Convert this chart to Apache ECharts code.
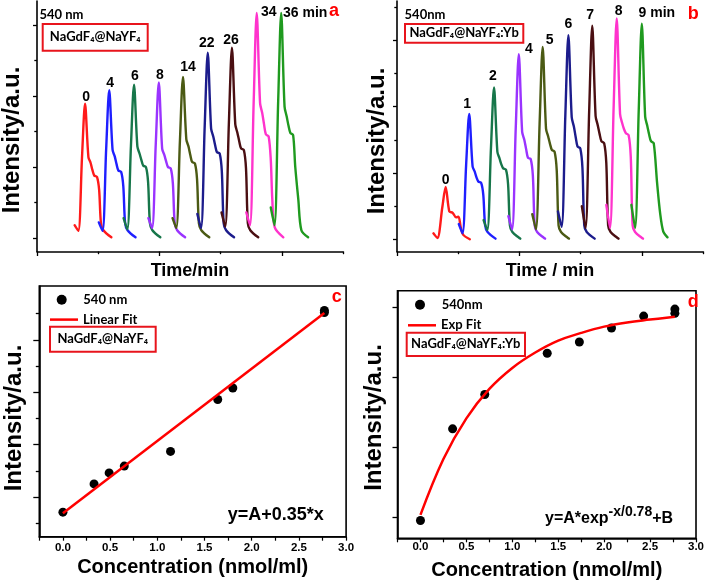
<!DOCTYPE html>
<html><head><meta charset="utf-8">
<script src="https://cdn.jsdelivr.net/npm/echarts@6/dist/echarts.min.js"></script>
<style>html,body{margin:0;padding:0;background:#fff}#c{width:707px;height:585px}</style>
</head><body><div id="c"></div>
<script>
// ---------- Panel a: NaGdF4@NaYF4, 540 nm intensity vs time ----------
const labelsA = ['0','4','6','8','14','22','26','34','36 min'];
const a0  = [[1.23,0.18],[1.35,0.10],[1.47,1.13],[1.57,1.89],[1.68,1.14],[1.75,1.06],[1.81,0.96],[1.87,0.88],[1.96,0.86],[2.03,0.68],[2.09,0.21],[2.17,0.11],[2.43,0.01]];
const a4  = [[2.02,0.22],[2.14,0.10],[2.26,1.25],[2.36,2.08],[2.47,1.24],[2.54,1.15],[2.60,1.04],[2.66,0.95],[2.75,0.93],[2.82,0.73],[2.88,0.21],[2.96,0.11],[3.22,0.01]];
const a6  = [[2.83,0.28],[2.95,0.12],[3.07,1.30],[3.17,2.16],[3.28,1.29],[3.35,1.19],[3.41,1.10],[3.47,1.02],[3.56,1.00],[3.63,0.79],[3.69,0.21],[3.77,0.11],[4.03,0.01]];
const a8  = [[3.64,0.28],[3.76,0.14],[3.88,1.31],[3.98,2.19],[4.09,1.26],[4.16,1.17],[4.22,1.08],[4.28,1.00],[4.37,0.98],[4.44,0.77],[4.50,0.21],[4.58,0.11],[4.84,0.01]];
const a14 = [[4.43,0.28],[4.55,0.14],[4.67,1.36],[4.77,2.27],[4.88,1.39],[4.95,1.29],[5.01,1.17],[5.07,1.07],[5.16,1.05],[5.23,0.83],[5.29,0.21],[5.37,0.11],[5.63,0.01]];
const a22 = [[5.24,0.34],[5.36,0.14],[5.48,1.57],[5.58,2.61],[5.69,1.54],[5.76,1.43],[5.82,1.31],[5.88,1.21],[5.97,1.19],[6.04,0.94],[6.10,0.21],[6.18,0.11],[6.44,0.01]];
const a26 = [[6.03,0.36],[6.15,0.16],[6.27,1.61],[6.37,2.68],[6.48,1.60],[6.55,1.48],[6.61,1.36],[6.67,1.26],[6.76,1.24],[6.83,0.98],[6.89,0.21],[6.97,0.11],[7.23,0.01]];
const a34 = [[6.84,0.36],[6.96,0.18],[7.08,1.90],[7.18,3.17],[7.29,1.90],[7.36,1.76],[7.42,1.60],[7.48,1.46],[7.57,1.43],[7.64,1.10],[7.69,0.54],[7.77,0.15],[8.05,0.01]];
const a36 = [[7.64,0.43],[7.76,0.18],[7.88,1.90],[7.98,3.17],[8.09,1.85],[8.16,1.71],[8.22,1.58],[8.28,1.48],[8.37,1.45],[8.44,1.00],[8.54,0.54],[8.64,0.11],[8.86,0.01]];

// ---------- Panel b: NaGdF4@NaYF4:Yb ----------
const labelsB = ['0','1','2','4','5','6','7','8','9 min'];
const b0 = [[1.19,0.09],[1.32,0.02],[1.48,0.48],[1.59,0.79],[1.71,0.42],[1.82,0.40],[1.93,0.33],[2.01,0.34],[2.08,0.19],[2.16,0.07],[2.38,0.00]];
const b1 = [[2.02,0.23],[2.14,0.09],[2.26,1.13],[2.36,1.89],[2.47,1.10],[2.54,1.02],[2.60,0.93],[2.66,0.87],[2.75,0.85],[2.82,0.67],[2.88,0.21],[2.96,0.11],[3.22,0.01]];
const b2 = [[2.83,0.29],[2.95,0.14],[3.07,1.37],[3.17,2.29],[3.28,1.32],[3.35,1.22],[3.41,1.13],[3.47,1.07],[3.56,1.05],[3.63,0.83],[3.69,0.21],[3.77,0.11],[4.03,0.01]];
const b4 = [[3.64,0.35],[3.76,0.15],[3.88,1.67],[3.98,2.79],[4.09,1.62],[4.16,1.50],[4.22,1.36],[4.28,1.23],[4.37,1.21],[4.44,0.96],[4.50,0.21],[4.58,0.11],[4.84,0.01]];
const b5 = [[4.42,0.38],[4.54,0.15],[4.66,1.74],[4.76,2.90],[4.87,1.67],[4.94,1.55],[5.00,1.44],[5.06,1.35],[5.15,1.32],[5.22,1.04],[5.28,0.21],[5.36,0.11],[5.62,0.01]];
const b6 = [[5.26,0.42],[5.38,0.19],[5.50,1.85],[5.60,3.08],[5.71,1.84],[5.78,1.70],[5.84,1.54],[5.90,1.40],[5.99,1.37],[6.06,1.08],[6.12,0.21],[6.20,0.11],[6.46,0.01]];
const b7 = [[6.04,0.50],[6.16,0.17],[6.28,1.93],[6.38,3.22],[6.49,1.86],[6.56,1.72],[6.62,1.59],[6.68,1.48],[6.77,1.45],[6.84,1.15],[6.90,0.21],[6.98,0.11],[7.24,0.01]];
const b8 = [[6.84,0.52],[6.96,0.17],[7.08,2.00],[7.18,3.33],[7.29,1.89],[7.36,1.75],[7.42,1.66],[7.48,1.60],[7.57,1.57],[7.64,1.24],[7.70,0.21],[7.78,0.11],[8.04,0.01]];
const b9 = [[7.66,0.52],[7.78,0.17],[7.90,1.95],[8.00,3.25],[8.11,1.85],[8.18,1.71],[8.24,1.58],[8.30,1.48],[8.39,1.45],[8.50,0.85],[8.60,0.39],[8.70,0.12],[8.84,0.03]];

// ---------- Panel c: linear ----------
const concC = [0, 0.33, 0.49, 0.65, 1.14, 1.64, 1.80, 2.77, 2.77];
const intC  = [0.71, 1.25, 1.46, 1.59, 1.87, 2.86, 3.08, 4.56, 4.52];
const fitCx = [0, 2.77];
const fitCy = [0.69, 4.51];

// ---------- Panel d: exponential ----------
const concD = [0, 0.35, 0.70, 1.38, 1.73, 2.08, 2.43, 2.77, 2.77];
const intD  = [-0.05, 1.26, 1.75, 2.34, 2.50, 2.70, 2.87, 2.97, 2.91];
const fitDx = [0, 0.25, 0.5, 0.75, 1.0, 1.25, 1.5, 1.75, 2.0, 2.25, 2.5, 2.77];
const fitDy = [0.03, 0.83, 1.41, 1.83, 2.13, 2.35, 2.52, 2.63, 2.72, 2.78, 2.82, 2.86];

// ---------- tick values ----------
const ticksTimeMajor = [0, 4, 8];
const ticksTimeMinor = [2, 6, 10];
const ticksIntA = [0, 1, 2, 3], ticksIntAMinor = [0.5, 1.5, 2.5];
const ticksIntB = [0, 1, 2, 3], ticksIntBMinor = [0.5, 1.5, 2.5, 3.5];
const ticksIntC = [1, 2, 3, 4], ticksIntCMinor = [0.5, 1.5, 2.5, 3.5, 4.5];
const ticksIntD = [0, 1, 2, 3];

// ---------- styles ----------
const colors = ['#ff1a1a','#1f1fff','#17764a','#9a33ff','#4b5a14','#1c1c8c','#4a0f12','#ff33cc','#1f9a1f'];
const offsA = [[1,-7],[1,-7],[1,-9],[1,-7],[5,-10],[-1,-10],[-1,-8],[12,-1],[24,0]];
const offsB = [[0,-7],[-2,-10],[-1,-11],[10,-5],[7,-7],[0,-11],[-2,-11],[2,-7],[15,-11]];
const FONT = "'Liberation Sans', Arial, sans-serif";
const CAL = "'Liberation Sans Narrow', Lato, sans-serif";
const RED = '#e8141c';

function tStyle(size){ return {fontFamily:FONT, fontWeight:'bold', fontSize:size, color:'#000'}; }
function ax(o){
  return Object.assign({
    type:'value', splitLine:{show:false},
    axisLine:{show:true, onZero:false, lineStyle:{color:'#000', width:1.6}},
    axisLabel:{show:false}
  }, o);
}
function tick(vals, len){ return {show:true, customValues:vals, length:len, lineStyle:{color:'#000', width:1.3}}; }
const noLine = {show:false, onZero:false};
const concLabel = v => Math.abs(v*2 - Math.round(v*2)) < 1e-6 && v >= 0 ? v.toFixed(1) : '';

const xAxis = [
  ax({gridIndex:0, position:'bottom', min:0, max:10, axisTick:tick(ticksTimeMajor,4.5),
      name:'Time/min', nameLocation:'middle', nameGap:11, nameTextStyle:tStyle(18)}),
  ax({gridIndex:0, position:'bottom', min:0, max:10, axisLine:noLine, axisTick:tick(ticksTimeMinor,2.7)}),
  ax({gridIndex:1, position:'bottom', min:0, max:10, axisTick:tick(ticksTimeMajor,4.5),
      name:'Time / min', nameLocation:'middle', nameGap:11, nameTextStyle:tStyle(18)}),
  ax({gridIndex:1, position:'bottom', min:0, max:10, axisLine:noLine, axisTick:tick(ticksTimeMinor,2.7)}),
  ax({gridIndex:2, position:'bottom', min:-0.25, max:3, interval:0.25,
      axisTick:{show:true, length:4, lineStyle:{color:'#000', width:1.2}},
      axisLabel:{show:true, margin:5, fontFamily:FONT, fontWeight:'bold', fontSize:11.5, color:'#000', formatter:concLabel},
      name:'Concentration (nmol/ml)', nameLocation:'middle', nameGap:21, nameTextStyle:tStyle(20)}),
  ax({gridIndex:3, position:'bottom', min:-0.25, max:3, interval:0.25,
      axisTick:{show:true, length:4, lineStyle:{color:'#000', width:1.2}},
      axisLabel:{show:true, margin:3, fontFamily:FONT, fontWeight:'bold', fontSize:11.5, color:'#000', formatter:concLabel},
      name:'Concentration (nmol/ml)', nameLocation:'middle', nameGap:22, nameTextStyle:tStyle(20)})
];
const yAxis = [
  ax({gridIndex:0, position:'left', min:-0.19, max:3.338, axisTick:tick(ticksIntA,4)}),
  ax({gridIndex:0, position:'left', min:-0.19, max:3.338, axisLine:noLine, axisTick:tick(ticksIntAMinor,2.7)}),
  ax({gridIndex:1, position:'left', min:-0.184, max:3.594, axisTick:tick(ticksIntB,4)}),
  ax({gridIndex:1, position:'left', min:-0.184, max:3.594, axisLine:noLine, axisTick:tick(ticksIntBMinor,2.7)}),
  ax({gridIndex:2, position:'left', min:0.242, max:5.027, axisTick:tick(ticksIntC,6)}),
  ax({gridIndex:2, position:'left', min:0.242, max:5.027, axisLine:noLine, axisTick:tick(ticksIntCMinor,3.5)}),
  ax({gridIndex:3, position:'left', min:-0.304, max:3.233, axisTick:tick(ticksIntD,5)})
];

const curvesA = [a0,a4,a6,a8,a14,a22,a26,a34,a36];
const curvesB = [b0,b1,b2,b4,b5,b6,b7,b8,b9];
const series = [];
function addPanel(curves, labels, offs, xi, yi){
  curves.forEach((c, i) => series.push({
    type:'line', xAxisIndex:xi, yAxisIndex:yi, data:c, smooth:0.3, showSymbol:false, symbol:'none',
    lineStyle:{color:colors[i], width:2.4, cap:'round', join:'round'}, z:2+i, silent:true
  }));
  const peaks = curves.map(c => c.reduce((m, p) => p[1] > m[1] ? p : m));
  series.push({
    type:'scatter', xAxisIndex:xi, yAxisIndex:yi, symbolSize:0.1, silent:true, z:20,
    itemStyle:{opacity:1, color:'rgba(0,0,0,0)'},
    data: peaks.map((p, i) => ({value:p, label:{offset:offs[i]}})),
    label:{show:true, position:'inside', formatter:p => labels[p.dataIndex], opacity:1,
      textBorderWidth:0, fontFamily:FONT, fontWeight:'bold', fontSize:14, color:'#000'}
  });
}
addPanel(curvesA, labelsA, offsA, 0, 0);
addPanel(curvesB, labelsB, offsB, 2, 2);
series.push({name:'540 nm', type:'scatter', xAxisIndex:4, yAxisIndex:4, symbolSize:9,
  itemStyle:{color:'#000', opacity:1}, data:concC.map((x, i) => [x, intC[i]]), z:5});
series.push({name:'Linear Fit', type:'line', xAxisIndex:4, yAxisIndex:4, symbol:'none', showSymbol:false,
  lineStyle:{color:'#ff0000', width:2.5}, itemStyle:{color:'#ff0000'}, data:fitCx.map((x, i) => [x, fitCy[i]]), z:6});
series.push({name:'540nm', type:'scatter', xAxisIndex:5, yAxisIndex:6, symbolSize:9,
  itemStyle:{color:'#000', opacity:1}, data:concD.map((x, i) => [x, intD[i]]), z:5});
series.push({name:'Exp Fit', type:'line', xAxisIndex:5, yAxisIndex:6, symbol:'none', showSymbol:false, smooth:0.4,
  lineStyle:{color:'#ff0000', width:2.5}, itemStyle:{color:'#ff0000'}, data:fitDx.map((x, i) => [x, fitDy[i]]), z:6});

function txt(x, y, text, font, extra){
  return Object.assign({type:'text', x:x, y:y, z:100, style:{text:text, fill:'#000', align:'center', verticalAlign:'middle', font:font}}, extra || {});
}
function letter(x, y, t){ return {type:'text', x:x, y:y, z:100, style:{text:t, fill:'#ff0000', align:'center', verticalAlign:'middle', font:"bold 18px 'Liberation Sans'"}}; }
function box(x, y, w, h){ return {type:'rect', z:99, shape:{x:x, y:y, width:w, height:h}, style:{fill:'rgba(0,0,0,0)', stroke:RED, lineWidth:2}}; }
const yTitleFont = "bold 24px 'Liberation Sans', Arial, sans-serif";
const boxFont = "bold 13px Lato, sans-serif";
const graphic = [
  txt(12.5, 140, 'Intensity/a.u.', yTitleFont, {rotation:Math.PI/2}),
  txt(377.5, 141, 'Intensity/a.u.', yTitleFont, {rotation:Math.PI/2}),
  txt(14.2, 418, 'Intensity/a.u.', yTitleFont, {rotation:Math.PI/2}),
  txt(374.2, 417.5, 'Intensity/a.u.', yTitleFont, {rotation:Math.PI/2}),
  txt(61.5, 15, '540 nm', "bold 13px " + CAL),
  txt(425, 15, '540nm', "bold 13px " + CAL),
  box(42.7, 24, 105, 26.7), txt(95.2, 37.3, 'NaGdF₄@NaYF₄', boxFont),
  box(405, 24, 118.3, 18.7), txt(464.2, 33.3, 'NaGdF₄@NaYF₄:Yb', boxFont),
  box(50, 326.7, 105.7, 25), txt(102.8, 339.2, 'NaGdF₄@NaYF₄', boxFont),
  box(406.7, 332.7, 118.3, 23.3), txt(465.8, 344.3, 'NaGdF₄@NaYF₄:Yb', boxFont),
  letter(334, 11.5, 'a'), letter(693.3, 14.5, 'b'), letter(336.7, 297.5, 'c'), letter(693.3, 302, 'd'),
  txt(275.8, 515, 'y=A+0.35*x', "bold 18px 'Liberation Sans'"),
  {type:'text', x:545, y:516, z:100, style:{
    text:'{m|y=A*exp}{s|-x/0.78}{m|+B}', align:'left', verticalAlign:'middle',
    rich:{
      m:{fontFamily:FONT, fontWeight:'bold', fontSize:16, fill:'#000', verticalAlign:'bottom'},
      s:{fontFamily:FONT, fontWeight:'bold', fontSize:14, fill:'#000', verticalAlign:'top', padding:[0,0,7,0]}
    }}}
];

const legendText = {fontFamily:"Lato, sans-serif", fontWeight:'bold', fontSize:13, color:'#000'};
const legBase = {orient:'vertical', padding:0, selectedMode:false};
const option = {
  animation:false,
  backgroundColor:'#fff',
  grid:[
    {left:37, top:1, width:306, height:250.5},
    {left:397, top:1, width:306, height:250.5},
    {left:39.3, top:286, width:306.8, height:250.7, show:true, borderColor:'#000', borderWidth:1.6, backgroundColor:'rgba(0,0,0,0)'},
    {left:397.5, top:290.7, width:306.8, height:247.6, show:true, borderColor:'#000', borderWidth:1.6, backgroundColor:'rgba(0,0,0,0)'}
  ],
  legend:[
    Object.assign({}, legBase, {data:[{name:'540 nm', icon:'circle'}], left:56.7, top:293.3, itemWidth:10, itemHeight:10,
      textStyle:Object.assign({padding:[0,0,0,11.6]}, legendText)}),
    Object.assign({}, legBase, {data:[{name:'Linear Fit', icon:'rect'}], left:50, top:313.1, itemWidth:28, itemHeight:2.5, textStyle:legendText}),
    Object.assign({}, legBase, {data:[{name:'540nm', icon:'circle'}], left:415, top:298.3, itemWidth:10, itemHeight:10,
      textStyle:Object.assign({padding:[0,0,0,11.7]}, legendText)}),
    Object.assign({}, legBase, {data:[{name:'Exp Fit', icon:'rect'}], left:408, top:318.8, itemWidth:28, itemHeight:2.5, textStyle:legendText})
  ],
  xAxis:xAxis, yAxis:yAxis, series:series, graphic:graphic
};
const chart = echarts.init(document.getElementById('c'));
chart.setOption(option);
</script>
</body></html>
